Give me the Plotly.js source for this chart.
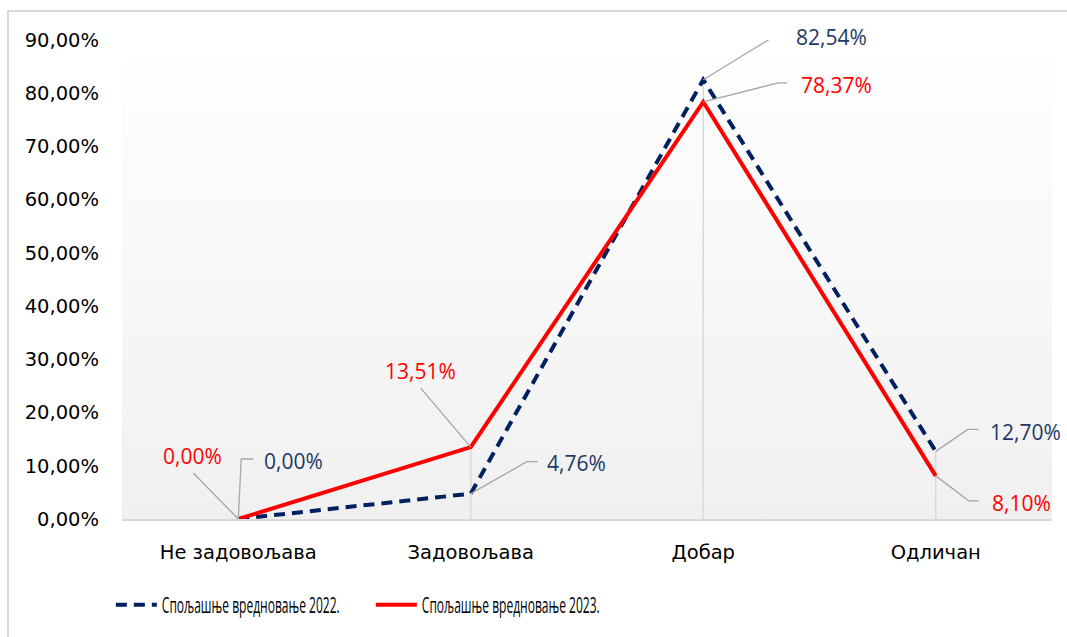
<!DOCTYPE html>
<html>
<head>
<meta charset="utf-8">
<script src="https://cdn.plot.ly/plotly-3.0.1.min.js"></script>
<style>
  html, body { margin: 0; padding: 0; background: #fff; }
  #chart { width: 1067px; height: 637px; }
  #frame { position: absolute; left: 7px; top: 10px; width: 1100px; height: 700px;
           border-left: 2px solid #d9d9d9; border-top: 2px solid #d9d9d9; pointer-events: none; }
</style>
</head>
<body>
<div id="chart"></div>
<div id="frame"></div>
<script>
// ---- data ----
const categories = ["Не задовољава", "Задовољава", "Добар", "Одличан"];
const values2022 = [0.00, 4.76, 82.54, 12.70];
const values2023 = [0.00, 13.51, 78.37, 8.10];
const seriesNames = ["Спољашње вредновање 2022.", "Спољашње вредновање 2023."];
const yTickValues = [0, 10, 20, 30, 40, 50, 60, 70, 80, 90];

// ---- label placement (pixels, styling only) ----
const labelPos2022 = [
  {xs: 24, ys: 58, path: "M0,0 L3,60 L15,60"},
  {xs: 74, ys: 31, path: "M0,0 L56,32 L67,32"},
  {xs: 91, ys: 43, path: "M0,0 L72,44 L84,44"},
  {xs: 52, ys: 19, path: "M0,0 L32,22 L43,22"}
];
const labelPos2023 = [
  {xs: -46, ys: 63, anchor: "center", path: "M0,0 L-45,46"},
  {xs: -50, ys: 76, anchor: "center", path: "M0,0 L-50,59"},
  {xs: 96, ys: 17, path: "M0,0 L75,19 L84,19"},
  {xs: 54, ys: -27, path: "M0,0 L33,-25 L43,-25"}
];

const fmt = v => v.toFixed(2).replace(".", ",") + "%";
const BLUE = "#002060", RED = "#ff0000";
const labelFont = "Open Sans, Lato, sans-serif";

const traces = [
  {x: categories, y: values2022, name: seriesNames[0], type: "scatter", mode: "lines",
   line: {color: BLUE, width: 4, dash: "11px,7px"}, hoverinfo: "y"},
  {x: categories, y: values2023, name: seriesNames[1], type: "scatter", mode: "lines",
   line: {color: RED, width: 4}, hoverinfo: "y"}
];

const shapes = [];
const annotations = [];
categories.forEach((c, i) => {
  const top = Math.max(values2022[i], values2023[i]);
  if (top > 0) {
    shapes.push({type: "line", xref: "x", yref: "y", x0: c, x1: c, y0: 0, y1: top,
                 line: {color: "#d9d9d9", width: 1.5}, layer: "below"});
  }
});
function addLabels(vals, pos, color) {
  vals.forEach((v, i) => {
    const p = pos[i];
    shapes.push({type: "path", xref: "x", yref: "y", xsizemode: "pixel", ysizemode: "pixel",
                 xanchor: categories[i], yanchor: v, path: p.path,
                 line: {color: "#a6a6a6", width: 1.3}});
    annotations.push({x: categories[i], y: v, xref: "x", yref: "y", text: fmt(v),
                      showarrow: false, xanchor: p.anchor || "left", yanchor: "middle",
                      xshift: p.xs, yshift: p.ys,
                      font: {family: labelFont, size: 21, color: color}});
  });
}
addLabels(values2022, labelPos2022, "#1f3864");
addLabels(values2023, labelPos2023, RED);

const gradSvg = "<svg xmlns='http://www.w3.org/2000/svg' width='100' height='100' preserveAspectRatio='none'>" +
  "<defs><linearGradient id='g' x1='0' y1='0' x2='0' y2='1'>" +
  "<stop offset='0' stop-color='#ffffff'/><stop offset='1' stop-color='#f0f0f0'/></linearGradient></defs>" +
  "<rect width='100' height='100' fill='url(#g)'/></svg>";

const layout = {
  width: 1067, height: 637,
  margin: {l: 122, r: 15, t: 40, b: 117},
  paper_bgcolor: "rgba(0,0,0,0)",
  plot_bgcolor: "rgba(0,0,0,0)",
  showlegend: true,
  legend: {orientation: "h", x: -0.012, y: -0.177, xanchor: "left", yanchor: "middle",
           font: {family: "Open Sans, sans-serif", size: 22, weight: 500, color: "#000"},
           itemwidth: 41, entrywidth: 204, bgcolor: "rgba(0,0,0,0)"},
  xaxis: {type: "category", range: [-0.5, 3.5], showgrid: false, zeroline: false,
          showline: true, linecolor: "#d9d9d9", linewidth: 1.5,
          ticks: "", ticklabelstandoff: 15,
          tickfont: {family: "DejaVu Sans, sans-serif", size: 19.5, color: "#000"}, fixedrange: true},
  yaxis: {range: [0, 90], tickvals: yTickValues, ticktext: yTickValues.map(v => fmt(v)),
          showgrid: false, zeroline: false, showline: false, ticks: "", ticklabelstandoff: 22,
          tickfont: {family: "DejaVu Sans, sans-serif", size: 19.5, color: "#000"}, fixedrange: true},
  images: [{source: "data:image/svg+xml;utf8," + encodeURIComponent(gradSvg),
            xref: "paper", yref: "paper", x: 0, y: 1, sizex: 1, sizey: 1,
            sizing: "stretch", layer: "below", xanchor: "left", yanchor: "top"}],
  shapes: shapes,
  annotations: annotations
};

Plotly.newPlot("chart", traces, layout, {displayModeBar: false, staticPlot: true}).then(() => {
  // horizontally condensed legend text, like the original
  const target = 178;
  document.querySelectorAll("#chart .legendtext").forEach(t => {
    const w = t.getComputedTextLength();
    if (w > target) {
      const sx = target / w;
      const x = parseFloat(t.getAttribute("x")) || 0;
      t.setAttribute("transform", "translate(" + x + ",0) scale(" + sx + ",1) translate(" + (-x) + ",0)");
    }
  });
});
</script>
</body>
</html>
